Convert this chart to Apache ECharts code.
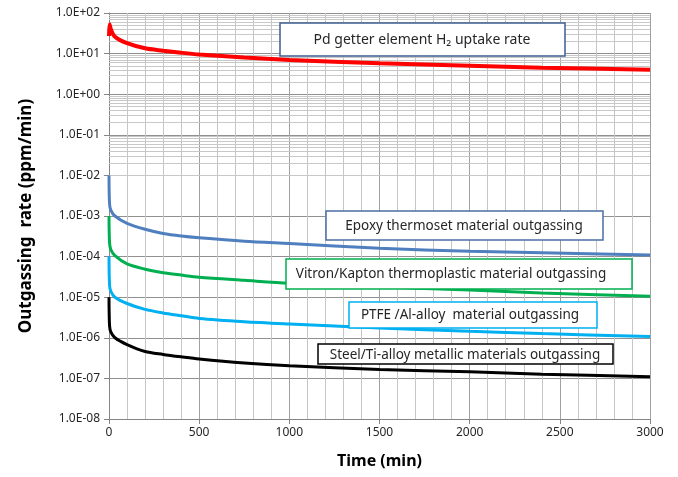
<!DOCTYPE html>
<html>
<head>
<meta charset="utf-8">
<script src="https://cdn.jsdelivr.net/npm/echarts@6/dist/echarts.min.js"></script>
<style>
  html, body { margin: 0; padding: 0; background: #fff; }
  #chart { width: 678px; height: 477px; }
</style>
</head>
<body>
<div id="chart"></div>
<script>
// time points (min) shared by all curves
const timeMin = [0, 3, 10, 33, 100, 200, 300, 400, 500, 750, 1000, 1500, 2000, 2400, 3000];

// rates (ppm/min)
const pdUptake   = [27, 53, 40, 26, 18, 13.5, 11.8, 10.5, 9.5, 8.0, 7.0, 5.8, 5.0, 4.5, 4.0];
const epoxy      = [1e-2, 2.0e-3, 1.4e-3, 1.0e-3, 6.6e-4, 4.7e-4, 3.7e-4, 3.2e-4, 2.9e-4, 2.4e-4, 2.1e-4, 1.6e-4, 1.35e-4, 1.25e-4, 1.1e-4];
const vitron     = [1e-3, 2.2e-4, 1.5e-4, 1.05e-4, 6.6e-5, 4.9e-5, 4.0e-5, 3.5e-5, 3.1e-5, 2.6e-5, 2.2e-5, 1.8e-5, 1.5e-5, 1.27e-5, 1.05e-5];
const ptfe       = [1e-4, 2.0e-5, 1.4e-5, 1.0e-5, 7.0e-6, 5.0e-6, 4.1e-6, 3.5e-6, 3.0e-6, 2.5e-6, 2.2e-6, 1.75e-6, 1.45e-6, 1.27e-6, 1.07e-6];
const steel      = [1e-5, 2.0e-6, 1.4e-6, 1.0e-6, 6.8e-7, 4.6e-7, 3.9e-7, 3.4e-7, 3.0e-7, 2.4e-7, 2.05e-7, 1.65e-7, 1.45e-7, 1.27e-7, 1.1e-7];

const yTickLabels = ['1.0E-08', '1.0E-07', '1.0E-06', '1.0E-05', '1.0E-04', '1.0E-03',
                     '1.0E-02', '1.0E-01', '1.0E+00', '1.0E+01', '1.0E+02'];
const decadeExps = [-8, -7, -6, -5, -4, -3, -2, -1, 0, 1];
const minorMults = [2, 3, 4, 5, 6, 7, 8, 9];

const FONT = '"Noto Sans", "DejaVu Sans", sans-serif';

const pairs = vals => timeMin.map((t, i) => [t, vals[i]]);

// log minor grid lines (2..9 x 10^k)
const minorGrid = [];
decadeExps.forEach(e => {
  minorMults.forEach(m => minorGrid.push({ yAxis: m * Math.pow(10, e) }));
});

const curves = [
  { name: 'Pd getter', data: pdUptake, color: '#ff0000', width: 4 },
  { name: 'Epoxy', data: epoxy, color: '#4f7fbf', width: 3 },
  { name: 'Vitron/Kapton', data: vitron, color: '#00b050', width: 3 },
  { name: 'PTFE', data: ptfe, color: '#00b0f0', width: 3 },
  { name: 'Steel', data: steel, color: '#000000', width: 3 }
];

// annotation boxes: [x, y, w, h, border, text centre x, text centre y, text, font size]
const notes = [
  [280, 23, 285, 33, '#3c5f90', 422, 40, 'Pd getter element H\u2082 uptake rate', 14],
  [326, 211, 277, 29, '#4a6fa5', 464, 226, 'Epoxy thermoset material outgassing', 13.5],
  [286, 259, 346, 30, '#00b050', 451, 274, 'Vitron/Kapton thermoplastic material outgassing', 13.5],
  [349, 302, 248, 26, '#00b0f0', 470, 315, 'PTFE /Al-alloy  material outgassing', 13.5],
  [318, 344, 295, 20, '#000000', 465, 355, 'Steel/Ti-alloy metallic materials outgassing', 13.5]
];

const chart = echarts.init(document.getElementById('chart'), null, { renderer: 'canvas' });

const graphic = [];
notes.forEach(n => {
  graphic.push({
    type: 'rect', z: 100,
    shape: { x: n[0], y: n[1], width: n[2], height: n[3] },
    style: { fill: '#fff', stroke: n[4], lineWidth: 1.5 }
  });
  graphic.push({
    type: 'text', z: 101, x: n[5], y: n[6],
    style: { text: n[7], fill: '#262626', font: n[8] + 'px ' + FONT, align: 'center', verticalAlign: 'middle' }
  });
});

chart.setOption({
  animation: false,
  backgroundColor: '#fff',
  grid: { left: 109, right: 28, top: 13, bottom: 58 },
  xAxis: {
    type: 'value', min: 0, max: 3000, interval: 500,
    axisLine: { show: true, lineStyle: { color: '#868686' } },
    axisTick: { show: true, length: 5, lineStyle: { color: '#868686' } },
    splitLine: { show: true, lineStyle: { color: '#a0a0a0' } },
    minorTick: { show: false, splitNumber: 5 },
    minorSplitLine: { show: true, lineStyle: { color: '#c6c6c6' } },
    axisLabel: { fontSize: 12, color: '#262626', fontFamily: FONT, margin: 8, formatter: v => String(v) },
    name: 'Time (min)', nameLocation: 'middle', nameGap: 34,
    nameTextStyle: { fontSize: 16, fontWeight: 'bold', color: '#000', fontFamily: FONT }
  },
  yAxis: {
    type: 'log', logBase: 10, min: 1e-8, max: 100, interval: 1, splitNumber: 10,
    axisLine: { show: true, lineStyle: { color: '#868686' } },
    axisTick: { show: true, length: 5, interval: 0, lineStyle: { color: '#868686' } },
    splitLine: { show: true, interval: 0, lineStyle: { color: '#909090' } },
    axisLabel: {
      fontSize: 12, color: '#262626', fontFamily: FONT, margin: 9, interval: 0, hideOverlap: false,
      formatter: v => yTickLabels[Math.round(Math.log10(v)) + 8]
    },
    name: 'Outgassing  rate (ppm/min)', nameLocation: 'middle', nameGap: 74,
    nameTextStyle: { fontSize: 17, fontWeight: 'bold', color: '#000', fontFamily: FONT }
  },
  series: [
    {
      type: 'line', data: [], z: 1, silent: true,
      markLine: {
        silent: true, symbol: 'none', label: { show: false },
        lineStyle: { color: '#c8c8c8', type: 'solid', width: 1 },
        data: minorGrid
      }
    }
  ].concat(curves.map(c => ({
    name: c.name, type: 'line', data: pairs(c.data), z: 5,
    showSymbol: false, smooth: 0.3,
    lineStyle: { color: c.color, width: c.width }, itemStyle: { color: c.color }
  }))),
  graphic: graphic
});
</script>
</body>
</html>
